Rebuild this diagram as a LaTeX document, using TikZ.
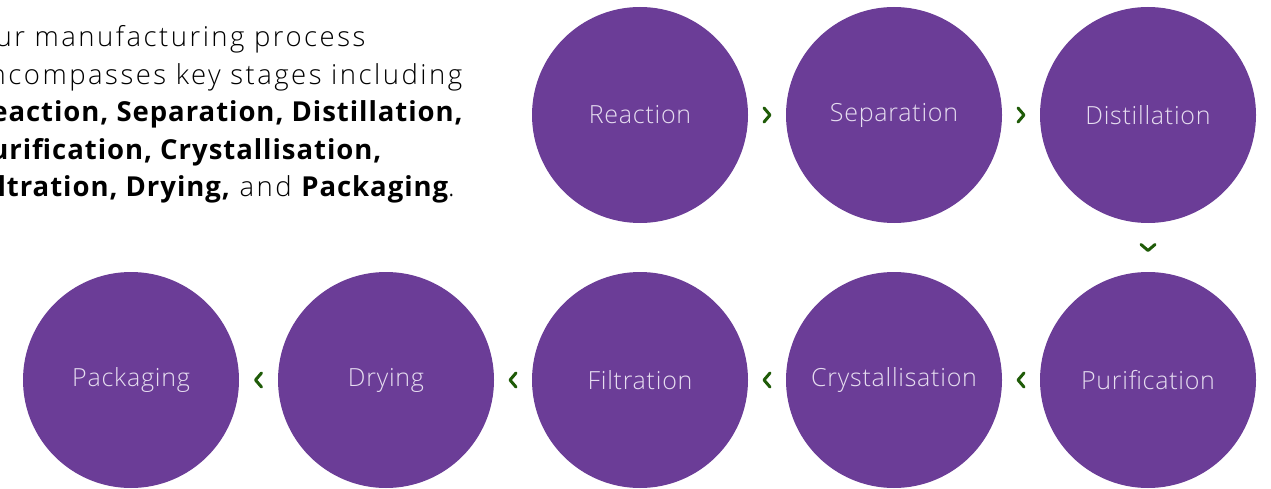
\documentclass[tikz,border=0pt]{standalone}
\usepackage{fontspec}
\setmainfont{Open Sans}
\newfontfamily\introfont{Open Sans Light}[LetterSpace=9]
\newfontfamily\heavyfont{Open Sans}[LetterSpace=3.5]
\newfontfamily\stagefont{Open Sans Light}[LetterSpace=3]
\definecolor{stagepurple}{HTML}{6B3D97}
\definecolor{chevgreen}{HTML}{1F5B08}
\definecolor{stagetext}{HTML}{E6DDF0}
\tikzset{
  stage/.style={circle,fill=stagepurple,minimum size=216pt,inner sep=0pt,text=stagetext,font=\stagefont\fontsize{25}{28}\selectfont},
  introline/.style={anchor=base west,inner sep=0pt,font=\introfont\fontsize{27.5}{30}\selectfont},
  chev/.pic={\draw[chevgreen,line width=3pt,line cap=round,line join=round] (-3,7) -- (3,0) -- (-3,-7);}
}
\newcommand{\hl}[1]{{\heavyfont\bfseries #1}}
\begin{document}
\begin{tikzpicture}[x=1pt,y=1pt]
\useasboundingbox (0,0) rectangle (1271,488);
\clip (0,0) rectangle (1271,488);
% intro text, cut at the left edge
\node[introline] (l1) at (-28,441) {Our manufacturing process};
\node[introline] (l2) at (-28,403.5) {encompasses key stages including};
\node[introline] (l3) at (-28,366) {\hl{Reaction, Separation, Distillation,}};
\node[introline] (l4) at (-28,328.5) {\hl{Purification, Crystallisation,}};
\node[introline] (l5) at (-28,291) {\hl{Filtration, Drying,} and \hl{Packaging}.};
% top row
\node[stage] (reac) at (640,373) {Reaction};
\node[stage] (sepa) at (894,373) {Separation};
\node[stage] (dist) at (1148,373) {Distillation};
% bottom row
\node[stage] (puri) at (1148,108) {Purification};
\node[stage] (crys) at (894,108) {Crystallisation};
\node[stage] (filt) at (640,108) {Filtration};
\node[stage] (dryi) at (386,108) {Drying};
\node[stage] (pack) at (131,108) {Packaging};
% chevrons
\path (reac) -- (sepa) pic[pos=0.5,sloped,allow upside down] {chev};
\path (sepa) -- (dist) pic[pos=0.5,sloped,allow upside down] {chev};
\path (dist) -- (puri) pic[pos=0.5,sloped,allow upside down] {chev};
\path (puri) -- (crys) pic[pos=0.5,sloped,allow upside down] {chev};
\path (crys) -- (filt) pic[pos=0.5,sloped,allow upside down] {chev};
\path (filt) -- (dryi) pic[pos=0.5,sloped,allow upside down] {chev};
\path (dryi) -- (pack) pic[pos=0.5,sloped,allow upside down] {chev};
\end{tikzpicture}
\end{document}
